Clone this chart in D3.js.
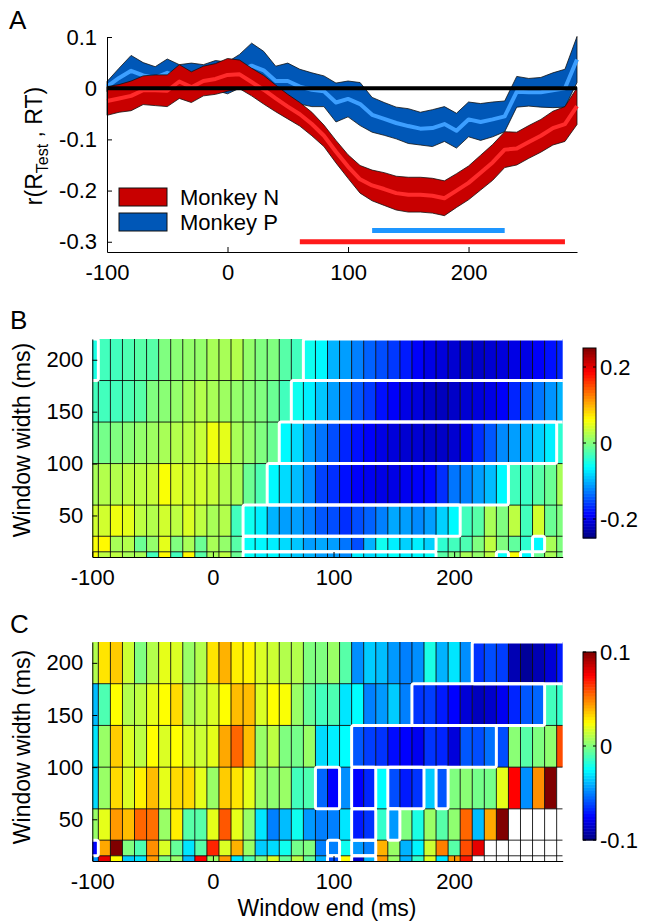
<!DOCTYPE html>
<html>
<head>
<meta charset="utf-8">
<script src="https://cdn.jsdelivr.net/npm/d3@7"></script>
<style>
  body { margin: 0; background: #fff; }
  svg { display: block; }
  text { font-family: "Liberation Sans", Arial, sans-serif; fill: #000; }
</style>
</head>
<body>
<svg id="fig" width="646" height="923"></svg>
<script>
// ---------- data : panel A ----------
var timeA = [-100,-90,-80,-70,-60,-50,-40,-30,-20,-10,0,10,20,30,40,50,60,70,80,90,100,110,120,130,140,150,160,170,180,190,200,210,220,230,240,250,260,270,280,290];
var meanN = [-0.025,-0.02,-0.015,-0.004,-0.004,-0.005,0.013,0.002,0.014,0.018,0.026,0.027,0.012,-0.003,-0.02,-0.036,-0.051,-0.07,-0.093,-0.124,-0.153,-0.178,-0.19,-0.197,-0.205,-0.208,-0.208,-0.21,-0.215,-0.2,-0.185,-0.165,-0.145,-0.12,-0.118,-0.105,-0.093,-0.078,-0.07,-0.035];
var semN = [0.028,0.027,0.029,0.028,0.03,0.031,0.033,0.03,0.029,0.03,0.032,0.028,0.027,0.028,0.026,0.024,0.023,0.023,0.021,0.022,0.023,0.027,0.03,0.032,0.033,0.034,0.034,0.034,0.034,0.033,0.033,0.034,0.035,0.035,0.032,0.032,0.032,0.033,0.034,0.036];
var meanP = [0.003,0.02,0.034,0.025,0.02,0.03,0.022,0.022,0.023,0.025,0.02,0.033,0.044,0.035,0.014,0.014,0.003,-0.003,-0.006,-0.028,-0.021,-0.031,-0.052,-0.06,-0.068,-0.074,-0.079,-0.078,-0.07,-0.083,-0.061,-0.066,-0.061,-0.055,-0.007,-0.008,-0.008,-0.004,0.0,0.056];
var semP = [0.01,0.019,0.03,0.025,0.022,0.027,0.024,0.027,0.023,0.029,0.031,0.033,0.044,0.037,0.029,0.035,0.034,0.033,0.03,0.038,0.035,0.042,0.034,0.032,0.031,0.034,0.032,0.036,0.034,0.034,0.034,0.036,0.034,0.03,0.03,0.027,0.029,0.034,0.037,0.045];
var seriesNames = ["Monkey N", "Monkey P"];
var sigBarN = [60, 280];   // significant window, monkey N
var sigBarP = [120, 230];  // significant window, monkey P
var ticksA = [0.1, 0, -0.1, -0.2, -0.3];
var ticksX = [-100, 0, 100, 200];

// ---------- data : panels B and C ----------
var windowEnds = [-100,-90,-80,-70,-60,-50,-40,-30,-20,-10,0,10,20,30,40,50,60,70,80,90,100,110,120,130,140,150,160,170,180,190,200,210,220,230,240,250,260,270,280,290];
var windowWidths = [200, 160, 120, 80, 40, 20, 10];
var ticksWidth = [50, 100, 150, 200];

var corrB = [
  [-0.05,-0.03,-0.03,-0.025,-0.02,-0.02,0.0,0.005,0.01,0.01,0.02,0.02,0.025,0.01,0.0,0.0,-0.02,-0.03,-0.055,-0.065,-0.1,-0.11,-0.125,-0.14,-0.15,-0.16,-0.175,-0.19,-0.2,-0.205,-0.21,-0.215,-0.215,-0.21,-0.205,-0.2,-0.2,-0.19,-0.18,-0.17],
  [-0.03,-0.03,-0.03,-0.025,-0.02,0.0,0.005,0.01,0.02,0.025,0.02,0.015,0.01,0.005,0.0,-0.01,-0.03,-0.055,-0.07,-0.09,-0.11,-0.125,-0.145,-0.16,-0.18,-0.19,-0.2,-0.205,-0.215,-0.22,-0.215,-0.21,-0.205,-0.2,-0.19,-0.17,-0.15,-0.13,-0.115,-0.1],
  [-0.01,-0.005,0.0,0.005,0.01,0.015,0.02,0.025,0.03,0.035,0.055,0.05,0.02,0.01,0.0,-0.01,-0.065,-0.08,-0.11,-0.13,-0.15,-0.17,-0.18,-0.19,-0.2,-0.205,-0.21,-0.21,-0.215,-0.215,-0.21,-0.2,-0.165,-0.145,-0.12,-0.11,-0.1,-0.085,-0.07,-0.04],
  [0.02,0.025,0.025,0.03,0.03,0.035,0.06,0.045,0.04,0.04,0.035,0.025,0.02,-0.01,-0.025,-0.065,-0.08,-0.095,-0.12,-0.155,-0.165,-0.18,-0.19,-0.195,-0.2,-0.2,-0.195,-0.19,-0.185,-0.165,-0.13,-0.125,-0.11,-0.095,-0.065,-0.03,-0.035,-0.02,-0.01,0.02],
  [0.04,0.04,0.055,0.05,0.03,0.025,0.04,0.03,0.045,0.03,0.02,0.025,-0.03,-0.055,-0.07,-0.1,-0.11,-0.11,-0.125,-0.145,-0.15,-0.165,-0.15,-0.14,-0.125,-0.105,-0.11,-0.12,-0.11,-0.085,-0.065,-0.03,-0.02,0.02,0.0,0.03,-0.03,0.04,-0.01,0.0],
  [0.06,0.065,0.02,0.025,-0.01,0.01,0.05,0.0,0.02,-0.01,0.02,0.01,-0.02,-0.06,-0.065,-0.07,-0.08,-0.09,-0.11,-0.105,-0.11,-0.13,-0.15,-0.1,-0.055,-0.07,-0.085,-0.07,-0.085,-0.04,-0.03,-0.025,0.0,0.03,0.0,-0.015,-0.04,-0.065,0.02,0.0],
  [0.06,0.03,0.03,0.02,0.02,-0.03,0.065,-0.03,0.065,-0.02,0.02,0.03,-0.01,-0.06,-0.07,-0.065,-0.08,-0.09,-0.1,-0.11,-0.11,-0.12,-0.07,-0.08,-0.07,-0.06,-0.07,-0.065,-0.06,-0.02,0.0,0.02,0.01,0.03,-0.06,0.06,-0.065,-0.01,0.02,0.0]
];
// significant runs [first window end, last window end] per window width
var sigB = [
  [[-100,-100],[80,290]],
  [[70,290]],
  [[60,280]],
  [[50,240]],
  [[30,200]],
  [[30,180],[270,270]],
  [[30,180],[240,240],[260,260]]
];

var corrC = [
  [0.01,0.03,0.035,0.015,0.0,0.01,0.02,0.018,0.005,0.01,0.03,0.04,0.028,0.027,0.018,0.015,0.01,0.01,0.0,0.0,0.005,-0.008,-0.047,-0.035,-0.038,-0.045,-0.05,-0.047,-0.02,-0.04,-0.03,-0.047,-0.065,-0.06,-0.063,-0.09,-0.095,-0.09,-0.083,-0.07],
  [-0.038,-0.01,0.025,0.01,0.012,0.02,0.025,0.032,0.01,0.012,0.018,0.025,0.038,0.038,0.018,0.025,0.024,0.005,-0.005,-0.012,-0.01,-0.03,-0.025,-0.05,-0.045,-0.035,-0.05,-0.065,-0.063,-0.07,-0.075,-0.083,-0.088,-0.085,-0.078,-0.068,-0.058,-0.055,-0.012,-0.015],
  [-0.03,0.005,0.035,0.018,0.012,0.025,0.018,0.025,0.018,0.015,0.02,0.042,0.055,0.038,0.005,0.012,0.0,-0.002,0.005,-0.032,-0.028,-0.025,-0.058,-0.063,-0.065,-0.073,-0.075,-0.078,-0.065,-0.068,-0.082,-0.058,-0.06,-0.053,-0.06,0.002,-0.008,0.0,0.003,0.06],
  [-0.032,0.005,0.032,0.018,0.028,0.038,0.02,0.032,0.032,0.02,0.005,0.035,0.03,0.02,0.005,0.003,0.005,-0.012,-0.01,-0.055,-0.075,-0.047,-0.075,-0.068,-0.025,-0.06,-0.07,-0.065,-0.035,-0.058,0.0,0.002,-0.002,-0.002,0.02,0.075,-0.047,0.047,0.1,null],
  [0.005,0.02,0.045,0.038,0.055,0.053,0.005,0.028,-0.008,-0.008,0.02,0.058,0.02,0.005,-0.03,-0.05,-0.038,-0.022,-0.045,-0.05,-0.05,-0.03,-0.07,-0.065,-0.015,-0.045,0.0,-0.02,0.005,-0.008,0.003,0.055,-0.038,0.042,0.1,null,null,null,null,null],
  [-0.075,0.042,0.1,0.0,-0.01,0.047,0.018,-0.005,-0.03,-0.008,0.068,0.018,0.04,0.005,-0.035,-0.032,-0.022,-0.002,0.0,-0.05,-0.05,-0.022,-0.045,-0.05,0.04,0.005,-0.04,-0.027,0.015,0.05,-0.008,0.06,0.08,null,null,null,null,null,null,null],
  [-0.045,0.08,0.025,-0.035,-0.03,0.045,0.0,0.005,-0.038,0.075,0.005,0.045,-0.03,-0.01,0.0,0.018,-0.005,0.012,-0.005,-0.04,-0.06,0.025,-0.085,-0.04,0.045,0.005,-0.04,-0.015,0.018,-0.03,0.045,0.07,null,null,null,null,null,null,null,null]
];
var sigC = [
  [[220,290]],
  [[170,270]],
  [[120,230]],
  [[90,100],[120,130],[150,170],[190,190]],
  [[120,130],[150,150]],
  [[-100,-100],[100,100],[120,130]],
  [[100,100],[120,130]]
];
var cbTicksB = [0.2, 0, -0.2];
var cbTicksC = [0.1, 0, -0.1];

// ---------- helpers ----------
var svg = d3.select("#fig");
var FONT = "'Liberation Sans', Arial, sans-serif";

function jet(t) {
  var c = function (v) { return Math.max(0, Math.min(1, v)); };
  var r = c(1.5 - Math.abs(4 * t - 3));
  var g = c(1.5 - Math.abs(4 * t - 2));
  var b = c(1.5 - Math.abs(4 * t - 1));
  return d3.rgb(r * 255, g * 255, b * 255).toString();
}

function styleAxis(g, size) {
  g.attr("font-family", FONT).attr("font-size", size);
  g.selectAll("path, line").attr("stroke", "#000").attr("stroke-width", 1);
  g.selectAll("text").attr("fill", "#000");
}

function panelLetter(txt, x, y) {
  svg.append("text").attr("x", x).attr("y", y).attr("font-size", 26).text(txt);
}

// ---------- panel A ----------
var xA = d3.scaleLinear().domain([-100, 290]).range([107, 577]);
var yA = d3.scaleLinear().domain([-0.32, 0.1]).range([252, 37]);

var seriesA = [
  { mean: meanP, sem: semP, dark: "#0057b7", light: "#3d9fff" },
  { mean: meanN, sem: semN, dark: "#c80000", light: "#ff2b2b" }
];

var gA = svg.append("g");
seriesA.forEach(function (s) {
  var pts = timeA.map(function (t, i) { return { t: t, m: s.mean[i], e: s.sem[i] }; });
  var band = d3.area()
    .x(function (d) { return xA(d.t); })
    .y0(function (d) { return yA(d.m - d.e); })
    .y1(function (d) { return yA(d.m + d.e); });
  gA.append("path").datum(pts).attr("d", band)
    .attr("fill", s.dark).attr("stroke", "#111").attr("stroke-width", 0.8);
  gA.append("path").datum(pts)
    .attr("d", d3.line().x(function (d) { return xA(d.t); }).y(function (d) { return yA(d.m); }))
    .attr("fill", "none").attr("stroke", s.light).attr("stroke-width", 4)
    .attr("stroke-linejoin", "round");
});

// zero line
gA.append("line")
  .attr("x1", xA(-100)).attr("x2", xA(290))
  .attr("y1", yA(0)).attr("y2", yA(0))
  .attr("stroke", "#000").attr("stroke-width", 4);

// significance bars
gA.append("line")
  .attr("x1", xA(sigBarP[0])).attr("x2", xA(sigBarP[1]))
  .attr("y1", yA(-0.278)).attr("y2", yA(-0.278))
  .attr("stroke", "#1e96ff").attr("stroke-width", 5);
gA.append("line")
  .attr("x1", xA(sigBarN[0])).attr("x2", xA(sigBarN[1]))
  .attr("y1", yA(-0.3)).attr("y2", yA(-0.3))
  .attr("stroke", "#ff1a1a").attr("stroke-width", 5);

// axes
var axYA = gA.append("g").attr("transform", "translate(" + xA(-100) + ",0)")
  .call(d3.axisLeft(yA).tickValues(ticksA).tickSizeInner(-5).tickSizeOuter(0)
    .tickPadding(10).tickFormat(function (d) { return String(d); }));
styleAxis(axYA, 22);
var axXA = gA.append("g").attr("transform", "translate(0," + yA(-0.32) + ")")
  .call(d3.axisBottom(xA).tickValues(ticksX).tickSizeInner(-5).tickSizeOuter(0)
    .tickPadding(12).tickFormat(function (d) { return String(d); }));
styleAxis(axXA, 22);

// legend
var legColors = ["#c80000", "#0057b7"];
seriesNames.forEach(function (name, i) {
  var ly = 188 + i * 25;
  gA.append("rect").attr("x", 119).attr("y", ly).attr("width", 48).attr("height", 18)
    .attr("fill", legColors[i]).attr("stroke", "#111").attr("stroke-width", 1);
  gA.append("text").attr("x", 180).attr("y", ly + 17).attr("font-size", 22).text(name);
});

// y label
var ylA = svg.append("text").attr("transform", "translate(42,146) rotate(-90)")
  .attr("text-anchor", "middle").attr("font-size", 23);
ylA.append("tspan").text("r(R");
ylA.append("tspan").attr("font-size", 16).attr("dy", 6).text("Test");
ylA.append("tspan").attr("dy", -6).text(" , RT)");

panelLetter("A", 9, 29);

// ---------- heatmaps ----------
function rowEdges(w) {
  return w.map(function (v, i) {
    var up = i === 0 ? v + (v - w[1]) / 2 : (w[i - 1] + v) / 2;
    var lo = i === w.length - 1 ? v - (w[i - 1] - v) / 2 : (v + w[i + 1]) / 2;
    return [up, lo];
  });
}

function heatmap(opts) {
  var x = d3.scaleLinear().domain([-100, 290]).range([92.3, 562.7]);
  var y = d3.scaleLinear().domain([10, 220]).range([opts.bottom, opts.top]);
  var color = d3.scaleSequential(jet).domain(opts.range);
  var edges = rowEdges(windowWidths);
  var half = 5;
  var id = "clip" + opts.name;

  svg.append("clipPath").attr("id", id).append("rect")
    .attr("x", x(-100)).attr("y", y(220))
    .attr("width", x(290) - x(-100)).attr("height", y(10) - y(220));

  var g = svg.append("g").attr("clip-path", "url(#" + id + ")");

  var cells = [];
  opts.data.forEach(function (row, r) {
    row.forEach(function (v, c) {
      cells.push({ r: r, end: windowEnds[c], v: v });
    });
  });
  g.selectAll("rect.cell").data(cells).enter().append("rect")
    .attr("class", "cell")
    .attr("x", function (d) { return x(d.end - half); })
    .attr("width", function (d) { return x(d.end + half) - x(d.end - half); })
    .attr("y", function (d) { return y(edges[d.r][0]); })
    .attr("height", function (d) { return y(edges[d.r][1]) - y(edges[d.r][0]); })
    .attr("fill", function (d) { return d.v === null ? "#fff" : color(d.v); });

  // cell edges
  windowEnds.forEach(function (e) {
    g.append("line").attr("x1", x(e + half)).attr("x2", x(e + half))
      .attr("y1", y(220)).attr("y2", y(10))
      .attr("stroke", "#000").attr("stroke-opacity", 0.85).attr("stroke-width", 1);
  });
  edges.forEach(function (ed) {
    g.append("line").attr("x1", x(-100)).attr("x2", x(290))
      .attr("y1", y(ed[1])).attr("y2", y(ed[1]))
      .attr("stroke", "#000").attr("stroke-opacity", 0.85).attr("stroke-width", 1);
  });

  // significance outlines
  opts.sig.forEach(function (runs, r) {
    runs.forEach(function (run) {
      g.append("rect")
        .attr("x", x(run[0] - half)).attr("width", x(run[1] + half) - x(run[0] - half))
        .attr("y", y(edges[r][0])).attr("height", y(edges[r][1]) - y(edges[r][0]))
        .attr("rx", 2).attr("fill", "none").attr("stroke", "#fff").attr("stroke-width", 3);
    });
  });

  // axes
  var ay = svg.append("g").attr("transform", "translate(" + x(-100) + ",0)")
    .call(d3.axisLeft(y).tickValues(ticksWidth).tickSizeInner(-5).tickSizeOuter(0)
      .tickPadding(9).tickFormat(function (d) { return String(d); }));
  styleAxis(ay, 22);
  var ax = svg.append("g").attr("transform", "translate(0," + y(10) + ")")
    .call(d3.axisBottom(x).tickValues(ticksX).tickSizeInner(-5).tickSizeOuter(0)
      .tickPadding(12).tickFormat(function (d) { return String(d); }));
  styleAxis(ax, 22);

  svg.append("text")
    .attr("transform", "translate(30," + opts.labelY + ") rotate(-90)")
    .attr("text-anchor", "middle").attr("font-size", 23).text("Window width (ms)");

  // colorbar
  var cb = d3.scaleLinear().domain(opts.range).range([opts.cbBottom, opts.cbTop]);
  var nSteps = 64;
  var step = (opts.range[1] - opts.range[0]) / nSteps;
  var steps = d3.range(nSteps).map(function (i) { return opts.range[0] + i * step; });
  var gcb = svg.append("g");
  gcb.selectAll("rect").data(steps).enter().append("rect")
    .attr("x", 583).attr("width", 13)
    .attr("y", function (d) { return cb(d + step); })
    .attr("height", function (d) { return cb(d) - cb(d + step) + 0.5; })
    .attr("fill", function (d) { return color(d + step / 2); });
  gcb.append("rect").attr("x", 583).attr("width", 13)
    .attr("y", opts.cbTop).attr("height", opts.cbBottom - opts.cbTop)
    .attr("fill", "none").attr("stroke", "#000").attr("stroke-width", 1);
  opts.cbTicks.forEach(function (t) {
    gcb.append("line").attr("x1", 583).attr("x2", 586).attr("y1", cb(t)).attr("y2", cb(t)).attr("stroke", "#000");
    gcb.append("line").attr("x1", 593).attr("x2", 596).attr("y1", cb(t)).attr("y2", cb(t)).attr("stroke", "#000");
    gcb.append("text").attr("x", 600).attr("y", cb(t)).attr("dy", "0.36em")
      .attr("font-size", 22).text(String(t));
  });
}

heatmap({ name: "B", data: corrB, sig: sigB, range: [-0.25, 0.25], top: 339, bottom: 557,
  labelY: 440, cbTop: 348, cbBottom: 538, cbTicks: cbTicksB });
heatmap({ name: "C", data: corrC, sig: sigC, range: [-0.1, 0.1], top: 642, bottom: 861,
  labelY: 747, cbTop: 652, cbBottom: 840, cbTicks: cbTicksC });

panelLetter("B", 10, 329);
panelLetter("C", 10, 633);

svg.append("text").attr("x", 327).attr("y", 916).attr("text-anchor", "middle")
  .attr("font-size", 23).text("Window end (ms)");
</script>
</body>
</html>
